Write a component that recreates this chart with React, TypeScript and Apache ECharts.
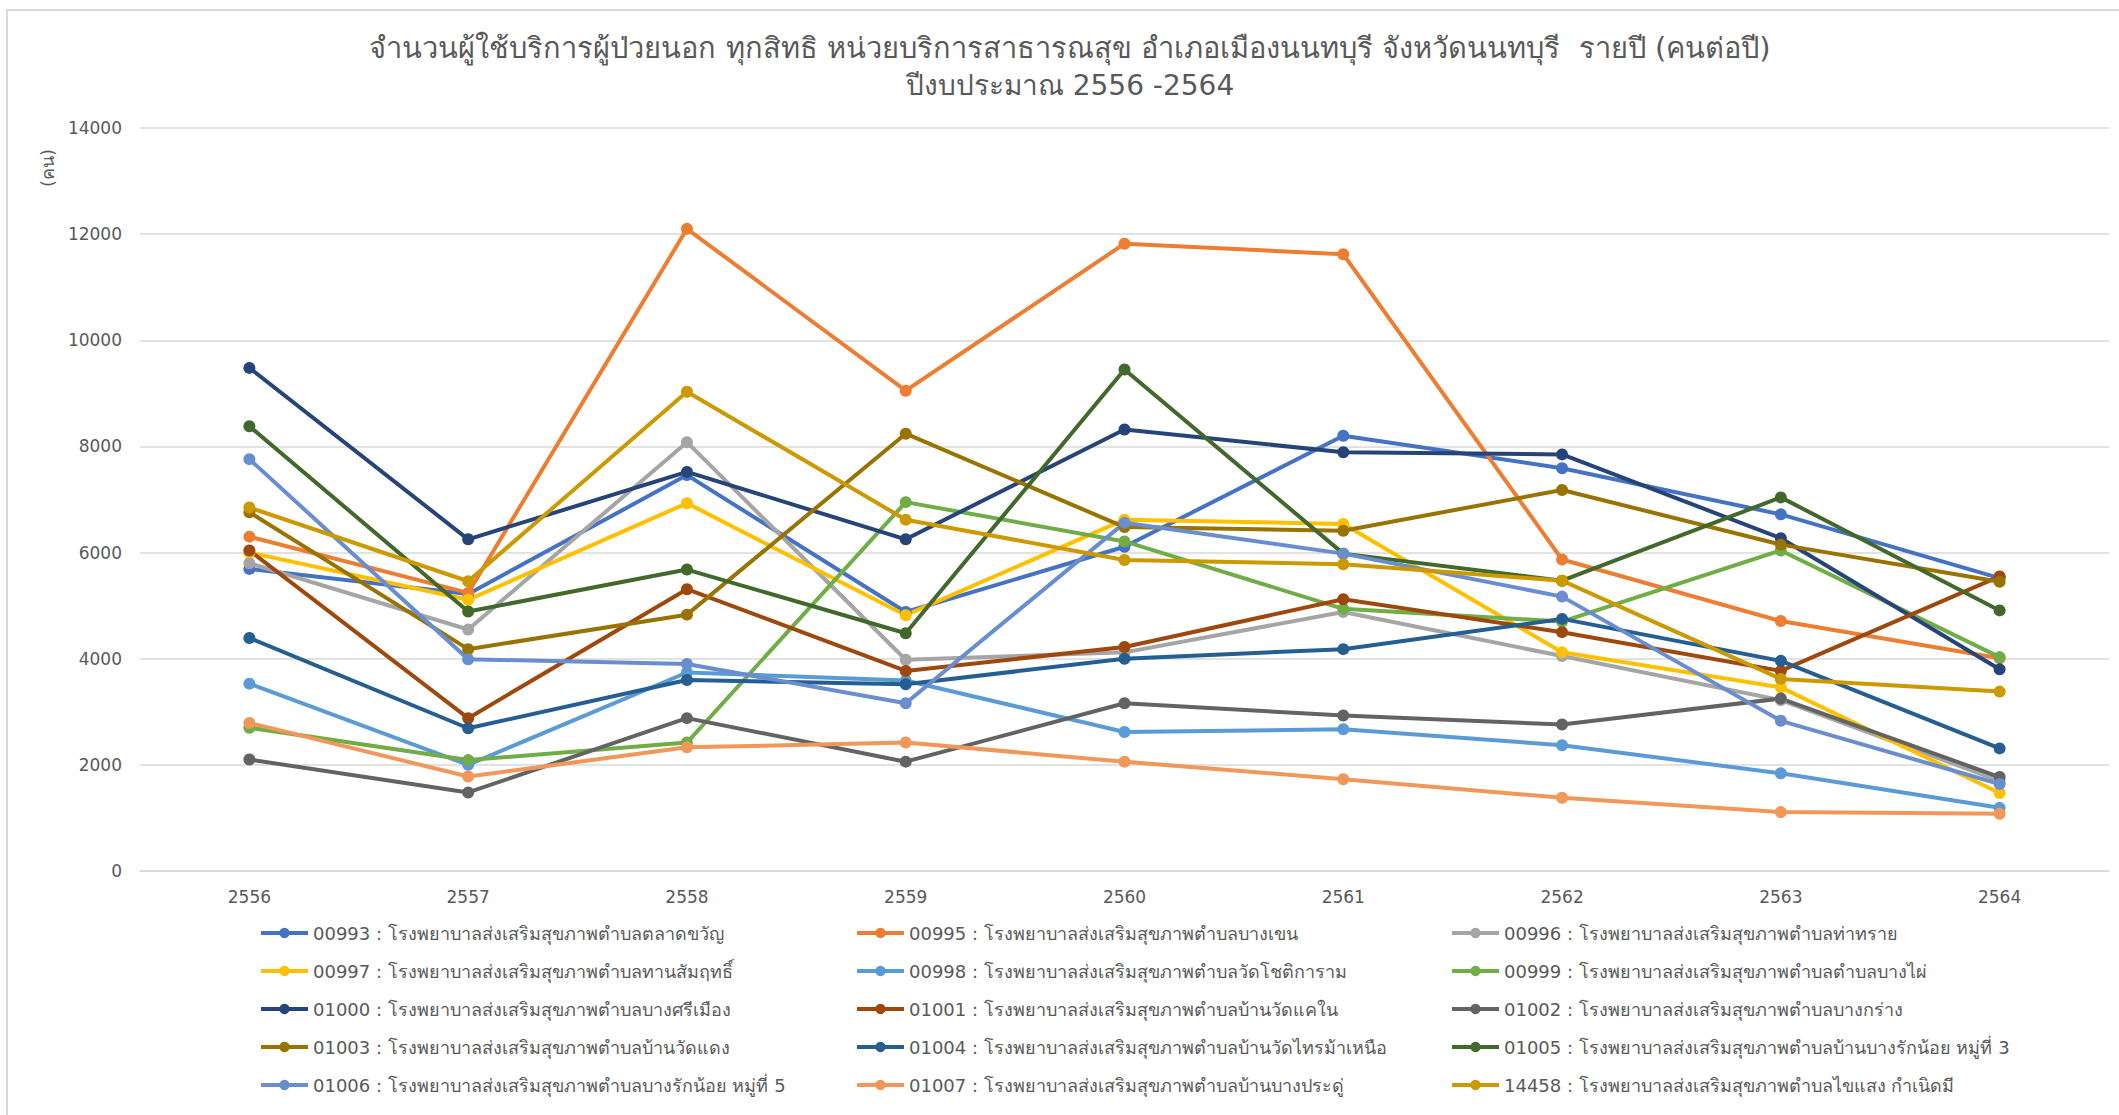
import React, { useEffect, useRef } from "react";
import * as echarts from "echarts";

const years = ["2556", "2557", "2558", "2559", "2560", "2561", "2562", "2563", "2564"];

const names = [
  "00993 : โรงพยาบาลส่งเสริมสุขภาพตำบลตลาดขวัญ",
  "00995 : โรงพยาบาลส่งเสริมสุขภาพตำบลบางเขน",
  "00996 : โรงพยาบาลส่งเสริมสุขภาพตำบลท่าทราย",
  "00997 : โรงพยาบาลส่งเสริมสุขภาพตำบลทานสัมฤทธิ์",
  "00998 : โรงพยาบาลส่งเสริมสุขภาพตำบลวัดโชติการาม",
  "00999 : โรงพยาบาลส่งเสริมสุขภาพตำบลตำบลบางไผ่",
  "01000 : โรงพยาบาลส่งเสริมสุขภาพตำบลบางศรีเมือง",
  "01001 : โรงพยาบาลส่งเสริมสุขภาพตำบลบ้านวัดแคใน",
  "01002 : โรงพยาบาลส่งเสริมสุขภาพตำบลบางกร่าง",
  "01003 : โรงพยาบาลส่งเสริมสุขภาพตำบลบ้านวัดแดง",
  "01004 : โรงพยาบาลส่งเสริมสุขภาพตำบลบ้านวัดไทรม้าเหนือ",
  "01005 : โรงพยาบาลส่งเสริมสุขภาพตำบลบ้านบางรักน้อย หมู่ที่ 3",
  "01006 : โรงพยาบาลส่งเสริมสุขภาพตำบลบางรักน้อย หมู่ที่ 5",
  "01007 : โรงพยาบาลส่งเสริมสุขภาพตำบลบ้านบางประดู่",
  "14458 : โรงพยาบาลส่งเสริมสุขภาพตำบลไขแสง กำเนิดมี",
];

const s00993 = [5692, 5220, 7460, 4880, 6110, 8200, 7590, 6720, 5520];
const s00995 = [6300, 5240, 12100, 9050, 11820, 11620, 5870, 4710, 4010];
const s00996 = [5800, 4550, 8080, 3980, 4120, 4880, 4050, 3220, 1700];
const s00997 = [6000, 5110, 6930, 4820, 6620, 6540, 4120, 3460, 1470];
const s00998 = [3530, 2000, 3740, 3590, 2620, 2670, 2370, 1840, 1190];
const s00999 = [2700, 2090, 2420, 6950, 6210, 4940, 4700, 6040, 4030];
const s01000 = [9480, 6250, 7520, 6250, 8320, 7890, 7850, 6270, 3800];
const s01001 = [6040, 2880, 5310, 3770, 4220, 5120, 4500, 3770, 5550];
const s01002 = [2100, 1480, 2880, 2060, 3160, 2930, 2760, 3250, 1770];
const s01003 = [6760, 4180, 4830, 8240, 6480, 6410, 7180, 6150, 5450];
const s01004 = [4390, 2690, 3600, 3520, 4000, 4180, 4750, 3960, 2310];
const s01005 = [8380, 4890, 5680, 4480, 9450, 5980, 5470, 7040, 4910];
const s01006 = [7760, 3990, 3900, 3160, 6560, 5980, 5170, 2830, 1640];
const s01007 = [2790, 1780, 2330, 2420, 2060, 1730, 1380, 1110, 1080];
const s14458 = [6850, 5460, 9030, 6620, 5860, 5780, 5470, 3620, 3380];

const seriesValues = [
  s00993, s00995, s00996, s00997, s00998, s00999, s01000, s01001,
  s01002, s01003, s01004, s01005, s01006, s01007, s14458,
];

const colors = [
  "#4472C4", "#ED7D31", "#A5A5A5", "#FFC000", "#5B9BD5", "#70AD47",
  "#264478", "#9E480E", "#636363", "#997300", "#255E91", "#43682B",
  "#698ED0", "#F1975A", "#CC9900",
];

const yTicks = { min: 0, max: 14000, interval: 2000 };

const FONT = "Tahoma, 'DejaVu Sans', 'Noto Sans', sans-serif";
const GREY = "#595959";

export default function App() {
  const ref = useRef<HTMLDivElement>(null);

  useEffect(() => {
    if (!ref.current) return;
    const chart = echarts.init(ref.current, undefined, { renderer: "svg" });

    const legendCols = [0, 1, 2].map((c) =>
      names.filter((_, i) => i % 3 === c)
    );
    const legendLeft = [259, 855, 1450];

    const option: any = {
      animation: false,
      backgroundColor: "#ffffff",
      color: colors,
      textStyle: { fontFamily: FONT },
      grid: { left: 140, right: 10, top: 128, bottom: 244, containLabel: false },
      xAxis: {
        type: "category",
        data: years,
        boundaryGap: true,
        axisLine: { show: true, lineStyle: { color: "#D9D9D9", width: 1.5 } },
        axisTick: { show: false },
        axisLabel: { color: GREY, fontSize: 17, margin: 17, fontFamily: FONT },
        splitLine: { show: false },
      },
      yAxis: {
        type: "value",
        min: yTicks.min,
        max: yTicks.max,
        interval: yTicks.interval,
        axisLine: { show: false },
        axisTick: { show: false },
        axisLabel: {
          color: GREY,
          fontSize: 17,
          margin: 18,
          fontFamily: FONT,
          formatter: (v: number) => String(v),
        },
        splitLine: { lineStyle: { color: "#D9D9D9", width: 1.5 } },
      },
      legend: legendCols.map((col, i) => ({
        orient: "vertical",
        left: legendLeft[i],
        top: 923,
        data: col,
        itemWidth: 47,
        itemHeight: 13,
        itemGap: 18,
        lineStyle: { width: 4 },
        textStyle: { color: GREY, fontSize: 18, lineHeight: 20, fontFamily: FONT },
        padding: 0,
      })),
      graphic: [
        {
          type: "rect",
          shape: { x: 7, y: 10, width: 2200, height: 1200 },
          style: { fill: "none", stroke: "#D9D9D9", lineWidth: 2 },
          silent: true,
          z: -1,
        },
        {
          type: "text",
          x: 1070,
          y: 48,
          style: {
            text: "จำนวนผู้ใช้บริการผู้ป่วยนอก ทุกสิทธิ หน่วยบริการสาธารณสุข อำเภอเมืองนนทบุรี จังหวัดนนทบุรี  รายปี (คนต่อปี)",
            fill: GREY,
            font: `29px ${FONT}`,
            textAlign: "center",
            textVerticalAlign: "middle",
          },
        },
        {
          type: "text",
          x: 1070,
          y: 85,
          style: {
            text: "ปีงบประมาณ 2556 -2564",
            fill: GREY,
            font: `28px ${FONT}`,
            textAlign: "center",
            textVerticalAlign: "middle",
          },
        },
        {
          type: "text",
          x: 47,
          y: 168,
          rotation: Math.PI / 2,
          style: {
            text: "(คน)",
            fill: GREY,
            font: `18px ${FONT}`,
            textAlign: "center",
            textVerticalAlign: "middle",
          },
        },
      ],
      series: names.map((n, i) => ({
        name: n,
        type: "line",
        data: seriesValues[i],
        symbol: "circle",
        symbolSize: 12,
        lineStyle: { width: 4, color: colors[i] },
        itemStyle: { color: colors[i] },
        emphasis: { disabled: true },
      })),
    };

    chart.setOption(option);
    return () => chart.dispose();
  }, []);

  return (
    <div
      ref={ref}
      style={{ position: "fixed", left: 0, top: 0, width: 2119, height: 1115, background: "#fff" }}
    />
  );
}
